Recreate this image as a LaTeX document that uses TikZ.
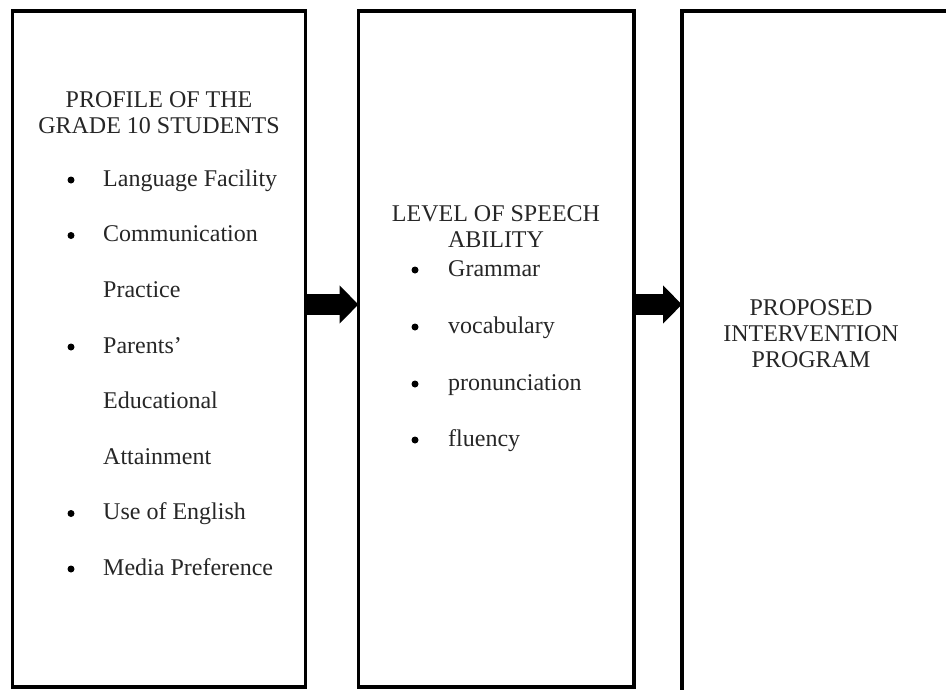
\documentclass[tikz,border=0pt]{standalone}
\usepackage{fontspec}
\setmainfont{Liberation Serif}
\usetikzlibrary{arrows.meta}
\begin{document}
\begin{tikzpicture}[x=1pt,y=-1pt,
  panel/.style={draw=black,line width=3.5pt,fill=none,rectangle,inner sep=0pt,outer sep=0pt},
  txt/.style={inner sep=0pt,font=\fontsize{24}{26}\selectfont,text=black!85},
  head/.style={txt,anchor=base},
  dot/.style={circle,fill=black,inner sep=0pt,minimum size=7pt},
  item/.style={txt,anchor=base west},
  flow/.style={line width=21pt,-{Triangle[length=19pt,width=37pt]}}]
\useasboundingbox (0,0) rectangle (946,689);
\clip (0,0) rectangle (946,689);
% three panels
\node[panel,minimum width=293pt,minimum height=676pt] (b1) at (159,349) {};
\node[panel,minimum width=275.5pt,minimum height=676pt] (b2) at (496.25,349) {};
\node[panel,minimum width=278pt,minimum height=689pt] (b3) at (821,355.5) {};
% block arrows between panels
\draw[flow] ([yshift=-293.5pt]b1.north east) -- ([yshift=-293.5pt]b2.north west);
\draw[flow] ([yshift=-293.5pt]b2.north east) -- ([yshift=-293.5pt]b3.north west);
% first panel
\node[head] (h1a) at (159,107) {PROFILE OF THE};
\node[head] (h1b) at (159,133) {GRADE 10 STUDENTS};
\node[dot] (d1) at (71,180) {};
\node[item] (i1) at (103,186) {Language Facility};
\node[dot] (d2) at (71,235.5) {};
\node[item] (i2) at (103,241.5) {Communication};
\node[item] (i2b) at (103,297) {Practice};
\node[dot] (d3) at (71,347) {};
\node[item] (i3) at (103,353) {Parents’};
\node[item] (i3b) at (103,408.5) {Educational};
\node[item] (i3c) at (103,464) {Attainment};
\node[dot] (d4) at (71,513.5) {};
\node[item] (i4) at (103,519.5) {Use of English};
\node[dot] (d5) at (71,569) {};
\node[item] (i5) at (103,575) {Media Preference};
% second panel
\node[head] (h2a) at (496,221) {LEVEL OF SPEECH};
\node[head] (h2b) at (496,247) {ABILITY};
\node[dot] (e1) at (415,270) {};
\node[item] (j1) at (448,276) {Grammar};
\node[dot] (e2) at (415,327) {};
\node[item] (j2) at (448,333) {vocabulary};
\node[dot] (e3) at (415,384) {};
\node[item] (j3) at (448,390) {pronunciation};
\node[dot] (e4) at (415,440) {};
\node[item] (j4) at (448,446) {fluency};
% third panel
\node[head] (h3a) at (811,315) {PROPOSED};
\node[head] (h3b) at (811,341) {INTERVENTION};
\node[head] (h3c) at (811,367) {PROGRAM};
\end{tikzpicture}
\end{document}
